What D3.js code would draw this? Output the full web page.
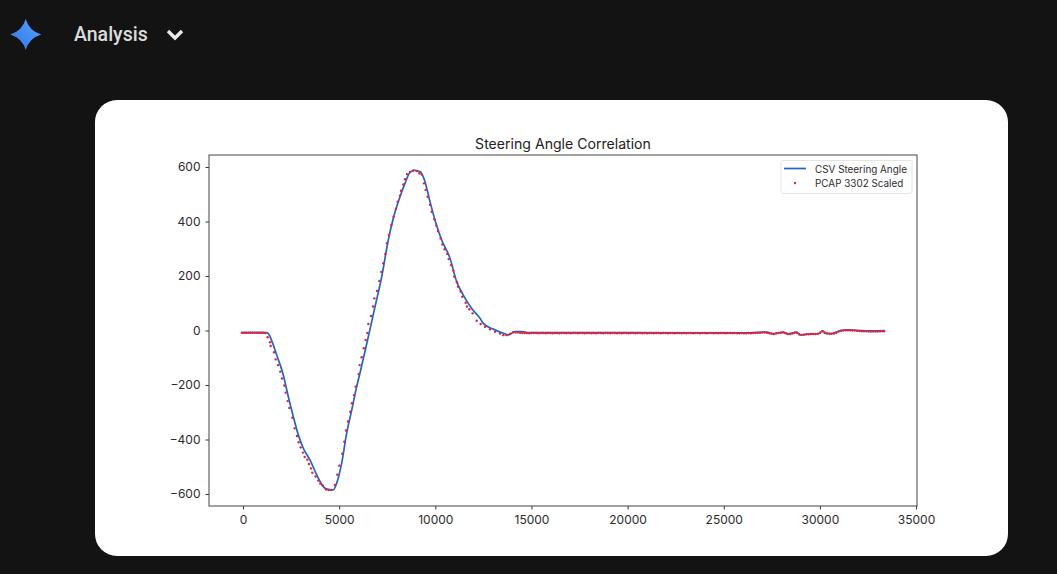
<!DOCTYPE html>
<html><head><meta charset="utf-8">
<script src="https://cdn.jsdelivr.net/npm/d3@7"></script>
<style>html,body{margin:0;padding:0;background:#131314;overflow:hidden}svg{display:block}</style>
</head><body><svg id="c" width="1057" height="574"></svg>
<script>
const chartTitle = "Steering Angle Correlation";
const headerLabel = "Analysis";
const seriesNames = ["CSV Steering Angle", "PCAP 3302 Scaled"];
const xTicks = [0,5000,10000,15000,20000,25000,30000,35000];
const yTicks = [-600,-400,-200,0,200,400,600];

const csvTime = [-60,600,1200,1300,1492,1752,2096,2356,2616,2876,3136,3484,3833,4264,4500,4696,4873,5133,5393,5653,5913,6084,6516,6864,7212,7556,7816,8164,8424,8684,8944,9240,9464,9724,10036,10333,10764,11112,11456,11892,12324,12496,13016,13536,13796,14144,14492,14836,16000,20000,25845,27233,27580,28096,28356,28793,28965,29573,29920,30145,30317,30613,31045,31477,32085,32777,33385];
const csvAngle = [-8,-8,-8,-10,-37,-90,-163,-243,-316,-383,-432,-475,-530,-579,-584,-585,-560,-486,-376,-292,-206,-156,-23,87,197,332,412,491,540,580,588,582,546,473,393,332,265,179,130,81,45,26,5,-10,-16,-4,-4,-8,-8,-8,-9,-6,-12,-6,-12,-6,-16,-12,-12,-1,-11,-11,-1,2,0,-1,0];

const pcapTime = [
 -60,50,160,270,380,490,600,710,820,930,1040,1150,
 1282,1404,1438,1612,1698,1820,1941,2027,2149,2218,
 2322,2409,2565,2686,2807,2894,2998,3119,3206,3345,
 3431,3535,3605,3778,3917,4020,4142,4315,4454,4593,
 4783,4905,5008,5164,5268,5355,5459,5580,5667,5771,
 5857,6013,6065,6170,6280,6380,6465,6517,6656,6760,6829,6968,
 7089,7193,7297,7401,7488,7592,7713,7834,7956,8042,
 8164,8216,8337,8424,8527,8684,8857,9030,9169,9290,
 9411,9498,9602,9723,9810,9949,10053,10139,10278,10365,
 10486,10624,10694,10815,10936,10988,11127,11179,11318,11404,
 11577,11647,11768,11942,12150,12358,12584,12844,13104,13364,
 13537,13710,13884,
 14050,14170,14290,14410,14530,14650,14770,14890,15010,15130,
 15250,15370,15490,15610,15730,15850,15970,16090,16210,16330,
 16450,16570,16690,16810,16930,17050,17170,17290,17410,17530,
 17650,17770,17890,18010,18130,18250,18370,18490,18610,18730,
 18850,18970,19090,19210,19330,19450,19570,19690,19810,19930,
 20050,20170,20290,20410,20530,20650,20770,20890,21010,21130,
 21250,21370,21490,21610,21730,21850,21970,22090,22210,22330,
 22450,22570,22690,22810,22930,23050,23170,23290,23410,23530,
 23650,23770,23890,24010,24130,24250,24370,24490,24610,24730,
 24850,24970,25090,25210,25330,25450,25570,25690,25810,25930,
 26050,26170,26290,26410,26530,26650,26770,26890,27010,27130,
 27250,27370,27490,27610,27730,27850,27970,28090,28210,28330,
 28450,28570,28690,28810,28930,29050,29170,29290,29410,29530,
 29650,29770,29890,30010,30130,30250,30370,30490,30610,30730,
 30850,30970,31090,31210,31330,31450,31570,31690,31810,31930,
 32050,32170,32290,32410,32530,32650,32770,32890,33010,33130,
 33250,33340];
const pcapAngle = [
 -8,-8,-8,-8,-8,-8,-8,-8,-8,-8,-8,-9,
 -25,-43,-57,-80,-106,-127,-151,-176,-202,-228,
 -259,-284,-320,-359,-387,-410,-429,-448,-464,-474,
 -490,-506,-522,-536,-551,-562,-569,-583,-585,-585,
 -567,-529,-496,-452,-408,-367,-334,-298,-267,-237,
 -206,-160,-127,-98,-65,-35,-9,24,53,88,118,145,
 182,215,247,281,320,351,387,418,446,473,
 495,513,536,555,574,582,587,585,577,572,
 540,516,491,461,436,408,385,365,338,316,
 298,281,262,240,220,198,177,161,143,124,
 102,88,78,63,36,24,14,5,-5,-11,
 -17,-17,-13,
 -6,-7,-7,-8,-9,-9,-9,-10,-9,-9,
 -9,-10,-9,-9,-10,-9,-9,-10,-9,-9,
 -10,-9,-9,-10,-9,-10,-9,-9,-10,-9,
 -9,-10,-9,-9,-10,-9,-10,-9,-9,-10,
 -9,-9,-10,-9,-9,-10,-9,-10,-9,-9,
 -10,-9,-9,-10,-9,-9,-10,-9,-10,-9,
 -9,-10,-9,-9,-10,-9,-9,-10,-9,-9,
 -10,-9,-9,-10,-9,-10,-9,-9,-10,-9,
 -9,-10,-9,-9,-10,-9,-9,-10,-9,-10,
 -9,-9,-10,-9,-9,-10,-9,-10,-10,-9,
 -10,-10,-9,-10,-9,-9,-8,-8,-7,-7,
 -8,-10,-12,-13,-10,-9,-8,-7,-10,-13,
 -13,-11,-8,-8,-14,-16,-15,-14,-14,-13,
 -13,-13,-12,-8,-3,-8,-11,-12,-12,-11,
 -8,-4,-1,0,1,1,1,0,0,-1,
 -2,-3,-3,-3,-4,-4,-4,-4,-4,-3,
 -3,-3];

const svg = d3.select("#c");
const font = "Inter,'Noto Sans',sans-serif";
const defs = svg.append("defs");
const grad = defs.append("linearGradient").attr("id","star").attr("x1","0").attr("y1","1").attr("x2","1").attr("y2","0");
grad.append("stop").attr("offset","0").attr("stop-color","#2f78ee");
grad.append("stop").attr("offset","1").attr("stop-color","#57a0fb");

// header
svg.append("path").attr("transform","translate(25.7,34.4)")
  .attr("d","M0,-15.5 Q3.5,-3.5 15.5,0 Q3.5,3.5 0,15.5 Q-3.5,3.5 -15.5,0 Q-3.5,-3.5 0,-15.5Z")
  .attr("fill","url(#star)");
svg.append("text").attr("x",74).attr("y",41).text(headerLabel)
  .attr("font-family","Roboto,sans-serif").attr("font-weight",500).attr("font-size",19.5).attr("fill","#dcdcdc");
svg.append("path").attr("d","M168,31 L175,38 L182,31").attr("fill","none").attr("stroke","#e8e8e8").attr("stroke-width",3.4);

// card
svg.append("rect").attr("x",95).attr("y",100).attr("width",913).attr("height",456).attr("rx",22).attr("fill","#fff");

// plot
const box = {l:209,r:917,t:155,b:506};
const x = d3.scaleLinear().domain([-1768,35050]).range([box.l,box.r]);
const y = d3.scaleLinear().domain([-644,644]).range([box.b,box.t]);
const g = svg.append("g");
const line = d3.line().x((d,i)=>x(csvTime[i])).y((d,i)=>y(csvAngle[i])).curve(d3.curveMonotoneX);
g.append("path").datum(csvAngle).attr("d",line).attr("fill","none").attr("stroke","#2563c4").attr("stroke-width",1.7);
g.selectAll("circle.p").data(pcapAngle).join("circle").attr("class","p")
  .attr("cx",(d,i)=>x(pcapTime[i])).attr("cy",d=>y(d)).attr("r",1.2).attr("fill","#dc2440");

const tickFmt = d=>String(d).replace("-","\u2212");
const ax = svg.append("g").attr("transform",`translate(0,${box.b})`)
  .call(d3.axisBottom(x).tickValues(xTicks).tickFormat(d=>String(d)).tickSize(3.5).tickPadding(6));
const ay = svg.append("g").attr("transform",`translate(${box.l},0)`)
  .call(d3.axisLeft(y).tickValues(yTicks).tickFormat(tickFmt).tickSize(3.5).tickPadding(5));
[ax,ay].forEach(a=>{
  a.select(".domain").remove();
  a.selectAll("text").attr("font-family",font).attr("font-size",12).attr("fill","#2b2b2b");
  a.selectAll("line").attr("stroke","#333");
});
svg.append("rect").attr("x",box.l).attr("y",box.t).attr("width",box.r-box.l).attr("height",box.b-box.t)
  .attr("fill","none").attr("stroke","#444").attr("stroke-width",1);

svg.append("text").attr("x",563).attr("y",148.5).attr("text-anchor","middle").text(chartTitle)
  .attr("font-family",font).attr("font-size",14.1).attr("fill","#222");

// legend
const lg = svg.append("g");
lg.append("rect").attr("x",781).attr("y",160.5).attr("width",131).attr("height",33).attr("rx",2)
  .attr("fill","#fff").attr("stroke","#ddd").attr("stroke-width",0.8);
lg.append("line").attr("x1",784).attr("x2",806).attr("y1",168.5).attr("y2",168.5).attr("stroke","#2563c4").attr("stroke-width",1.7);
lg.append("circle").attr("cx",795).attr("cy",183).attr("r",1.2).attr("fill","#dc2440");
seriesNames.forEach((n,i)=>lg.append("text").attr("x",815).attr("y",172.5+i*14.2).text(n)
  .attr("font-family",font).attr("font-size",9.9).attr("fill","#2b2b2b"));
</script></body></html>
